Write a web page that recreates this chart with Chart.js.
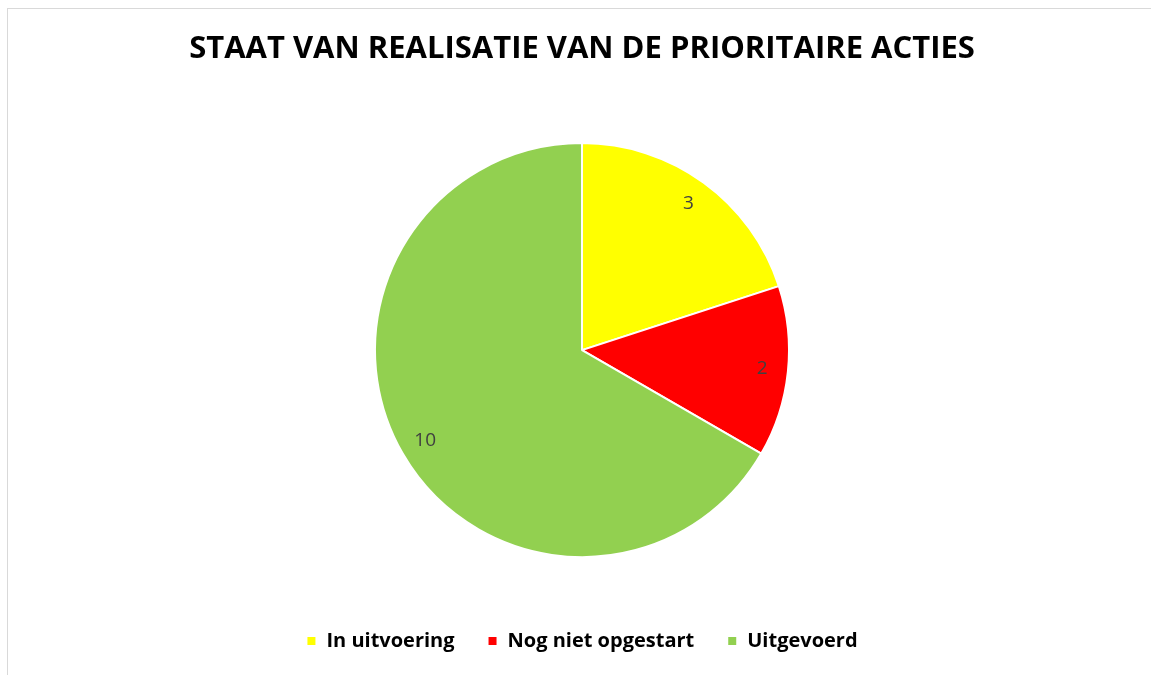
<!DOCTYPE html>
<html>
<head>
<meta charset="utf-8">
<script src="https://cdn.jsdelivr.net/npm/chart.js@4"></script>
<style>
  body { margin: 0; background: #fff; }
  #frame { position: absolute; left: 7px; top: 8px; width: 1200px; height: 700px; border: 1px solid #d9d9d9; }
  #wrap { position: absolute; left: 0; top: 0; width: 1151px; height: 675px; }
</style>
</head>
<body>
<div id="frame"></div>
<div id="wrap"><canvas id="canvasDiv"></canvas></div>
<script>
const labels = ["In uitvoering", "Nog niet opgestart", "Uitgevoerd"];
const counts = [3, 2, 10];
const colors = ["#ffff00", "#ff0000", "#92d050"];
const title = "STAAT VAN REALISATIE VAN DE PRIORITAIRE ACTIES";

// numbers inside the slices, like the excel data labels
const sliceLabels = {
  id: "sliceLabels",
  afterDatasetsDraw(chart) {
    const ctx = chart.ctx;
    const meta = chart.getDatasetMeta(0);
    ctx.save();
    ctx.font = "19px 'Open Sans'";
    ctx.fillStyle = "#404040";
    ctx.textAlign = "center";
    ctx.textBaseline = "middle";
    meta.data.forEach((arc, i) => {
      const p = arc.getProps(["x", "y", "startAngle", "endAngle", "outerRadius"], true);
      const mid = (p.startAngle + p.endAngle) / 2;
      const r = p.outerRadius * 0.875;
      ctx.fillText(String(counts[i]), p.x + Math.cos(mid) * r, p.y + Math.sin(mid) * r);
    });
    ctx.restore();
  },
};

var chart = new Chart(document.getElementById("canvasDiv"), {
  type: "pie",
  data: {
    labels: labels,
    datasets: [
      {
        data: counts,
        backgroundColor: colors,
        borderColor: "#ffffff",
        borderWidth: 2,
        radius: 207,
      },
    ],
  },
  options: {
    responsive: true,
    maintainAspectRatio: false,
    animation: false,
    layout: { padding: { left: 13, right: 0, top: 0, bottom: 14 } },
    plugins: {
      title: {
        display: true,
        text: title,
        color: "#000000",
        font: { family: "'Open Sans'", size: 31, weight: "bold" },
        padding: { top: 31, bottom: 34 },
      },
      legend: {
        position: "bottom",
        labels: {
          color: "#000000",
          font: { family: "'Open Sans'", size: 20, weight: "bold" },
          boxWidth: 10,
          boxHeight: 10,
          padding: 33,
        },
      },
      tooltip: { enabled: false },
    },
  },
  plugins: [sliceLabels],
});
</script>
</body>
</html>
